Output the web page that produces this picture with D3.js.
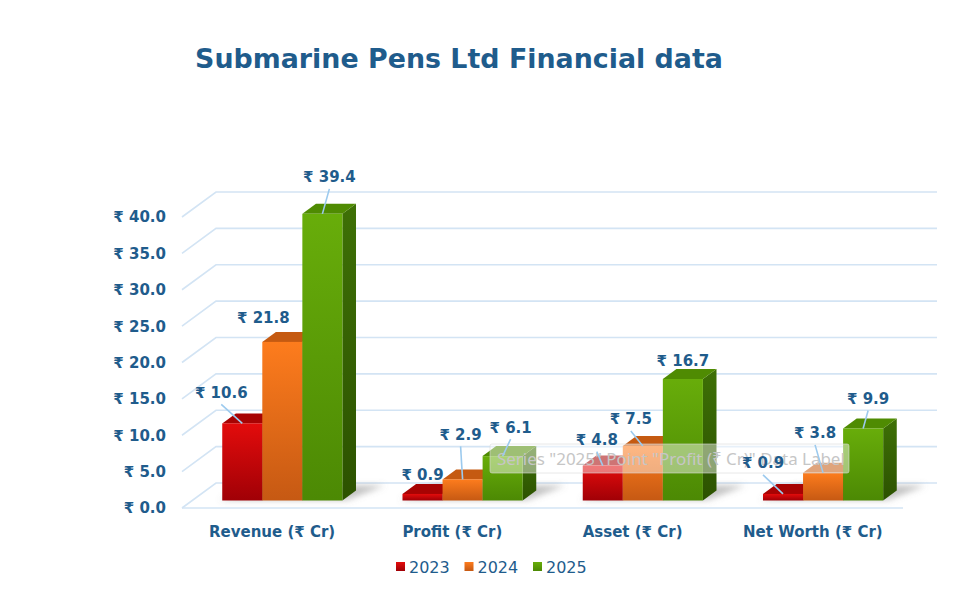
<!DOCTYPE html>
<html>
<head>
<meta charset="utf-8">
<script src="https://cdn.jsdelivr.net/npm/d3@7"></script>
<style>
  body { margin: 0; background: #fff; }
  svg { display: block; font-family: "Century Gothic", "DejaVu Sans", sans-serif; }
</style>
</head>
<body>
<svg></svg>
<script>
// chart data
const categories = ["Revenue (₹ Cr)", "Profit (₹ Cr)", "Asset (₹ Cr)", "Net Worth (₹ Cr)"];
const years = ["2023", "2024", "2025"];
const values2023 = [10.6, 0.9, 4.8, 0.9];
const values2024 = [21.8, 2.9, 7.5, 3.8];
const values2025 = [39.4, 6.1, 16.7, 9.9];
const yTickValues = [0, 5, 10, 15, 20, 25, 30, 35, 40];

// hand-moved data label nudges (px from the bar top)
const nudge2023 = [[-21, -31], [0, -19], [-6, -26], [-20, -31]];
const nudge2024 = [[-19, -24], [-2, -45], [-12, -27], [-8, -40]];
const nudge2025 = [[7, -37], [8, -29], [0, -18], [5, -30]];

const seriesValues = [values2023, values2024, values2025];
const seriesNudge = [nudge2023, nudge2024, nudge2025];

document.addEventListener("DOMContentLoaded", () => {
  const width = 973, height = 589;
  const textColor = "#1f5c8c";
  const gridColor = "#d3e4f4";

  const svg = d3.select("svg").attr("width", width).attr("height", height);
  const defs = svg.append("defs");

  // colours per series: front gradient, side gradient, top face
  const palette = [
    { front: ["#e30c0c", "#a00006"], side: ["#8a0000", "#600000"], top: "#a70303" },
    { front: ["#fd7c1d", "#c65913"], side: ["#b04c0c", "#8a3a08"], top: "#c55a11" },
    { front: ["#68ad0a", "#4c8904"], side: ["#3e7006", "#2c5200"], top: "#4f8b02" }
  ];
  palette.forEach((p, i) => {
    const gf = defs.append("linearGradient").attr("id", "front" + i)
      .attr("x1", 0).attr("y1", 0).attr("x2", 0).attr("y2", 1);
    gf.append("stop").attr("offset", "0%").attr("stop-color", p.front[0]);
    gf.append("stop").attr("offset", "100%").attr("stop-color", p.front[1]);
    const gs = defs.append("linearGradient").attr("id", "side" + i)
      .attr("x1", 0).attr("y1", 0).attr("x2", 0).attr("y2", 1);
    gs.append("stop").attr("offset", "0%").attr("stop-color", p.side[0]);
    gs.append("stop").attr("offset", "100%").attr("stop-color", p.side[1]);
  });
  defs.append("filter").attr("id", "blur").attr("x", "-20%").attr("y", "-50%")
    .attr("width", "140%").attr("height", "200%")
    .append("feGaussianBlur").attr("stdDeviation", 3);

  // scales
  const x = d3.scaleBand().domain(categories).range([182, 903]);
  const xs = d3.scaleBand().domain(years).range([0, x.bandwidth()]).paddingOuter(0.75);
  const y = d3.scaleLinear().domain([0, 40]).range([508, 217]);

  // oblique depth: z=0 front, z=1 back wall
  const DX = 34, DY = 25;
  const P = (px, v, z) => [px + z * DX, y(v) - z * DY];
  const Z0 = 0.3, Z1 = 0.7;

  // title
  const title = svg.append("text")
    .attr("x", 459).attr("y", 68)
    .attr("text-anchor", "middle")
    .attr("font-size", 28).attr("font-weight", "bold")
    .attr("fill", textColor)
    .text("Submarine Pens Ltd Financial data");
  fitText(title, 528);

  // walls
  const grid = svg.append("g").attr("stroke", gridColor).attr("stroke-width", 1.6).attr("fill", "none");
  yTickValues.forEach(t => {
    const a = P(x.range()[0], t, 0), b = P(x.range()[0], t, 1), c = P(x.range()[1], t, 1);
    grid.append("polyline").attr("points", [a, b, c].map(p => p.join(",")).join(" "));
  });
  const f0 = P(x.range()[0], 0, 0), f1 = P(x.range()[1], 0, 0);
  grid.append("line").attr("x1", f0[0]).attr("y1", f0[1]).attr("x2", f1[0]).attr("y2", f1[1]);

  // y tick labels
  const fmt = d3.format(".1f");
  svg.append("g").selectAll("text")
    .data(yTickValues)
    .join("text")
    .attr("x", 166).attr("y", d => y(d))
    .attr("dy", "0.36em")
    .attr("text-anchor", "end")
    .attr("font-size", 15).attr("font-weight", "bold")
    .attr("fill", textColor)
    .text(d => "₹ " + fmt(d));

  // floor shadows
  const shadow = svg.append("g").attr("filter", "url(#blur)");
  categories.forEach(cat => {
    const left = x(cat) + xs(years[0]), right = x(cat) + xs(years[2]) + xs.bandwidth();
    const pts = [P(left - 3, 0, Z0 + 0.02), P(right + 4, 0, Z0 + 0.02),
                 P(right + 22, 0, Z1 + 0.2), P(left + 12, 0, Z1 + 0.2)];
    shadow.append("polygon").attr("points", pts.map(p => p.join(",")).join(" "))
      .attr("fill", "#7a7a7a").attr("opacity", 0.45);
  });

  // bars, drawn left to right so neighbours hide side faces
  const bars = svg.append("g");
  const labels = [];
  categories.forEach((cat, ci) => {
    years.forEach((yr, si) => {
      const v = seriesValues[si][ci];
      const bx = x(cat) + xs(yr), w = xs.bandwidth();
      const g = bars.append("g");
      const side = [P(bx + w, 0, Z0), P(bx + w, v, Z0), P(bx + w, v, Z1), P(bx + w, 0, Z1)];
      g.append("polygon").attr("points", side.map(p => p.join(",")).join(" "))
        .attr("fill", `url(#side${si})`);
      const top = [P(bx, v, Z0), P(bx + w, v, Z0), P(bx + w, v, Z1), P(bx, v, Z1)];
      g.append("polygon").attr("points", top.map(p => p.join(",")).join(" "))
        .attr("fill", palette[si].top);
      const fl = P(bx, v, Z0), fb = P(bx, 0, Z0);
      g.append("rect")
        .attr("x", fl[0]).attr("y", fl[1])
        .attr("width", w).attr("height", fb[1] - fl[1])
        .attr("fill", `url(#front${si})`);
      const anchor = P(bx + w / 2, v, Z0);
      const n = seriesNudge[si][ci];
      labels.push({ v, anchor, lx: anchor[0] + n[0], ly: anchor[1] + n[1] });
    });
  });

  // hover tooltip that was on screen in the reference
  const tip = svg.append("g");
  tip.append("rect").attr("x", 490).attr("y", 444).attr("width", 359).attr("height", 29)
    .attr("rx", 2)
    .attr("fill", "#ffffff").attr("fill-opacity", 0.45)
    .attr("stroke", "#d8d8d8").attr("stroke-opacity", 0.6);
  const tipText = tip.append("text").attr("x", 497).attr("y", 465)
    .attr("font-family", "'Segoe UI', 'Noto Sans', sans-serif")
    .attr("font-size", 17).attr("fill", "#c6c6c6")
    .text('Series "2025" Point "Profit (₹ Cr)" Data Label');
  fitText(tipText, 348);

  // data labels with leader lines
  const lab = svg.append("g");
  labels.forEach(d => {
    const startY = d.ly + 12;
    if (d.anchor[1] - startY > 12) {
      lab.append("line")
        .attr("x1", d.lx).attr("y1", startY)
        .attr("x2", d.anchor[0]).attr("y2", d.anchor[1])
        .attr("stroke", "#9ccaee").attr("stroke-width", 1.6);
    }
    lab.append("text")
      .attr("x", d.lx).attr("y", d.ly)
      .attr("dy", "0.36em")
      .attr("text-anchor", "middle")
      .attr("font-size", 15).attr("font-weight", "bold")
      .attr("fill", textColor)
      .text("₹ " + fmt(d.v));
  });

  // category labels
  svg.append("g").selectAll("text")
    .data(categories)
    .join("text")
    .attr("x", d => x(d) + x.bandwidth() / 2)
    .attr("y", 532)
    .attr("dy", "0.36em")
    .attr("text-anchor", "middle")
    .attr("font-size", 15).attr("font-weight", "bold")
    .attr("fill", textColor)
    .text(d => d);

  // legend
  const legend = svg.append("g").attr("transform", "translate(396,567)");
  years.forEach((yr, i) => {
    const item = legend.append("g").attr("transform", `translate(${i * 68.5},0)`);
    item.append("rect").attr("x", 0).attr("y", -5).attr("width", 9).attr("height", 9)
      .attr("fill", `url(#front${i})`);
    item.append("text").attr("x", 13).attr("y", 0).attr("dy", "0.36em")
      .attr("font-family", "Verdana, 'DejaVu Sans', sans-serif")
      .attr("font-size", 16).attr("fill", textColor)
      .text(yr);
  });

  function fitText(sel, target) {
    const len = sel.node().getComputedTextLength();
    const size = +sel.attr("font-size");
    sel.attr("font-size", (size * target / len).toFixed(2));
  }
});
</script>
</body>
</html>
